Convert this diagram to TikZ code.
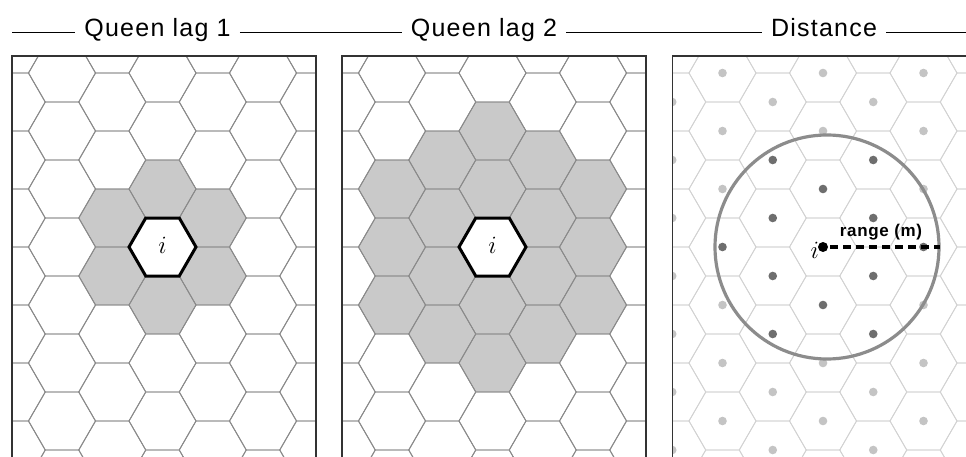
\documentclass[tikz,border=0pt]{standalone}
\usepackage{fontspec}
\setmainfont{Liberation Sans}
\newfontfamily\titlefont[LetterSpace=5]{Liberation Sans}
\newfontfamily\rangefont[LetterSpace=4]{Liberation Sans}
\definecolor{hexgray}{HTML}{8A8A8A}
\definecolor{hexlight}{HTML}{D2D2D2}
\definecolor{shade}{HTML}{C9C9C9}
\definecolor{dotlight}{HTML}{C4C4C4}
\definecolor{dotdark}{HTML}{6E6E6E}
\definecolor{circgray}{HTML}{8C8C8C}
\definecolor{framecol}{HTML}{333333}
\newcommand\myhex[3]{\path[#1] (#2+33.5,#3) -- ++(-16.75,-29) -- ++(-33.5,0) -- ++(-16.75,29) -- ++(16.75,29) -- ++(33.5,0) -- cycle;}
\tikzset{
  titletext/.style={font=\titlefont\fontsize{25}{25}\selectfont, inner sep=0pt, anchor=base},
  titleline/.style={draw=black, line width=0.9pt},
  framebox/.style={draw=framecol, line width=1.3pt},
  ilabel/.style={font=\fontsize{30}{30}\selectfont, inner sep=0pt},
  ihex/.style={draw=black, fill=white, line width=3pt, line join=miter},
}
\begin{document}
\begin{tikzpicture}[x=1pt,y=-1pt]
\useasboundingbox[fill=white] (0,0) rectangle (966,457);
% titles
\coordinate (L0) at (12,32);
\coordinate (L1) at (966,32);
\node[titletext] (t1) at (157.5,36.7) {Queen lag 1};
\node[titletext] (t2) at (484,36.7) {Queen lag 2};
\node[titletext] (t3) at (824,36.7) {Distance};
\draw[titleline] (L0) -- ([xshift=-9pt]t1.west |- L0);
\draw[titleline] ([xshift=9pt]t1.east |- L0) -- ([xshift=-9pt]t2.west |- L0);
\draw[titleline] ([xshift=9pt]t2.east |- L0) -- ([xshift=-9pt]t3.west |- L0);
\draw[titleline] ([xshift=9pt]t3.east |- L0) -- (L1);

% ---------- panel 1 ----------
\begin{scope}
\clip (12,56) rectangle (316,457);
\foreach \k in {-4,...,4}{
  \foreach \m in {-5,...,5}{
    \pgfmathsetmacro\cx{162.5+50.25*\k}
    \pgfmathsetmacro\cy{247+58*\m+29*mod(\k+4,2)}
    \pgfmathsetmacro\dd{veclen(\cx-162.5,\cy-247)}
    \pgfmathtruncatemacro\sh{(\dd>1 && \dd<60) ? 1 : 0}
    \ifnum\sh=1 \myhex{fill=shade}{\cx}{\cy}\fi
  }}
\foreach \k in {-4,...,4}{
  \foreach \m in {-5,...,5}{
    \pgfmathsetmacro\cx{162.5+50.25*\k}
    \pgfmathsetmacro\cy{247+58*\m+29*mod(\k+4,2)}
    \myhex{draw=hexgray, line width=0.9pt}{\cx}{\cy}
  }}
\myhex{ihex}{162.5}{247}
\end{scope}
\node[ilabel] (i1) at (162.5,245) {$i$};
\draw[framebox] (12,457) -- (12,56) -- (316,56) -- (316,457);

% ---------- panel 2 ----------
\begin{scope}
\clip (342,56) rectangle (646,457);
\foreach \k in {-4,...,4}{
  \foreach \m in {-5,...,5}{
    \pgfmathsetmacro\cx{492.5+50.25*\k}
    \pgfmathsetmacro\cy{247+58*\m+29*mod(\k+4,2)}
    \pgfmathsetmacro\dd{veclen(\cx-492.5,\cy-247)}
    \pgfmathtruncatemacro\sh{(\dd>1 && \dd<120) ? 1 : 0}
    \ifnum\sh=1 \myhex{fill=shade}{\cx}{\cy}\fi
  }}
\foreach \k in {-4,...,4}{
  \foreach \m in {-5,...,5}{
    \pgfmathsetmacro\cx{492.5+50.25*\k}
    \pgfmathsetmacro\cy{247+58*\m+29*mod(\k+4,2)}
    \myhex{draw=hexgray, line width=0.9pt}{\cx}{\cy}
  }}
\myhex{ihex}{492.5}{247}
\end{scope}
\node[ilabel] (i2) at (492.5,245) {$i$};
\draw[framebox] (342,457) -- (342,56) -- (646,56) -- (646,457);

% ---------- panel 3 ----------
\begin{scope}
\clip (672.5,56) rectangle (966,457);
\foreach \k in {-4,...,4}{
  \foreach \m in {-5,...,5}{
    \pgfmathsetmacro\cx{823+50.25*\k}
    \pgfmathsetmacro\cy{247+58*\m+29*mod(\k+4,2)}
    \myhex{draw=hexlight, line width=0.8pt}{\cx}{\cy}
  }}
\foreach \k in {-4,...,4}{
  \foreach \m in {-5,...,5}{
    \pgfmathsetmacro\cx{823+50.25*\k}
    \pgfmathsetmacro\cy{247+58*\m+29*mod(\k+4,2)}
    \pgfmathsetmacro\dd{veclen(\cx-823,\cy-247)}
    \pgfmathtruncatemacro\sh{(\dd<1) ? 2 : ((\dd<108) ? 1 : 0)}
    \ifcase\sh
      \fill[dotlight] (\cx,\cy) circle (4.3);
    \or
      \fill[dotdark] (\cx,\cy) circle (4.3);
    \fi
  }}
\draw[circgray, line width=3.2pt] (827,247) circle (112);
\end{scope}
\draw[framebox] (672.5,457) -- (672.5,56) -- (966,56);
\node[circle, fill=black, inner sep=0pt, minimum size=10pt] (c) at (823,247) {};
\coordinate (re) at (940,247);
\draw[black, line width=3.5pt, dash pattern=on 8pt off 5pt, shorten <=2pt] (c) -- (re);
\node[ilabel, anchor=east] (i3) at (819,250) {$i$};
\node[font=\rangefont\bfseries\fontsize{17}{17}\selectfont, inner sep=0pt] (rl) at (881,232) {range (m)};
\end{tikzpicture}
\end{document}
